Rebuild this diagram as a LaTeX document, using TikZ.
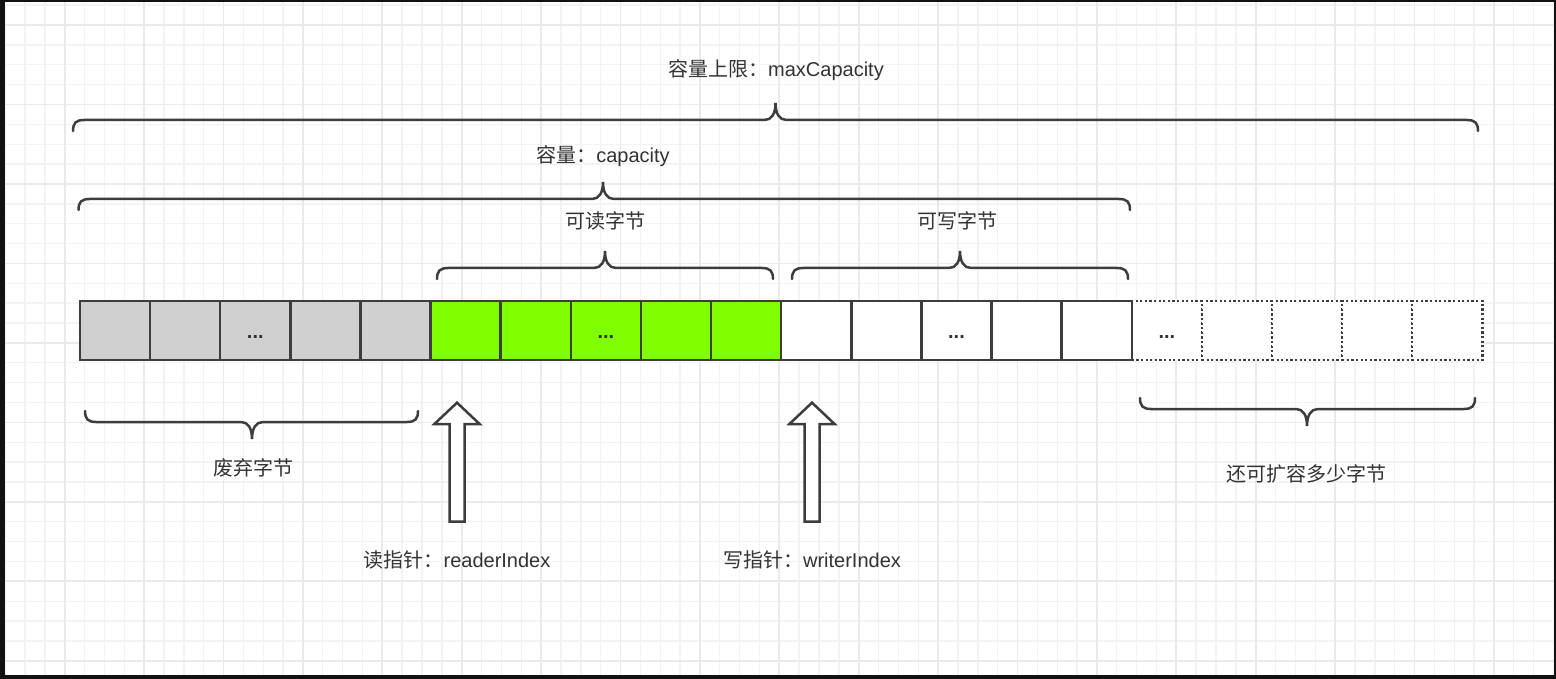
\documentclass[tikz,border=0pt]{standalone}
\usepackage{fontspec}
\setmainfont{Liberation Sans}
\newfontfamily\cjk{Noto Sans CJK SC}
\definecolor{inkline}{HTML}{3D3D3D}
\definecolor{inktext}{HTML}{333333}
\definecolor{discard}{HTML}{D0D0D0}
\definecolor{readable}{HTML}{80FF00}
\definecolor{gridminor}{HTML}{F3F3F3}
\definecolor{gridmajor}{HTML}{EAEAEA}
\definecolor{frame}{HTML}{111111}

% horizontal curly brace: #1 left x, #2 right x, #3 tip x, #4 line y, #5 = 1 (tip up) or -1 (tip down)
\newcommand\hbrace[5]{%
  \draw[bracesty] (#1,{#4+11*#5}) .. controls (#1,{#4+3*#5}) and ({#1+3},#4) .. ({#1+11},#4)
    -- ({#3-11},#4) .. controls ({#3-4},#4) and (#3,{#4-6*#5}) .. (#3,{#4-17*#5})
    .. controls (#3,{#4-6*#5}) and ({#3+4},#4) .. ({#3+11},#4)
    -- ({#2-11},#4) .. controls ({#2-3},#4) and (#2,{#4+3*#5}) .. (#2,{#4+11*#5});}

% hollow block arrow pointing up, centred on x = #1
\newcommand\uparrowshape[1]{%
  \draw[blockarrow] (#1,402.7) -- ({#1+22.6},424) -- ({#1+7.5},424) -- ({#1+7.5},521.7)
    -- ({#1-7.5},521.7) -- ({#1-7.5},424) -- ({#1-22.6},424) -- cycle;}

\begin{document}
\begin{tikzpicture}[x=1pt,y=-1pt,
  cellbase/.style={draw=inkline, line width=2.5pt, minimum width=70.12pt, minimum height=59pt, inner sep=0pt, outer sep=0pt},
  oldcell/.style={cellbase, fill=discard},
  readcell/.style={cellbase, fill=readable},
  writecell/.style={cellbase, fill=white},
  sparecell/.style={cellbase, fill=white, line width=2.4pt, dash pattern=on 2.2pt off 2.4pt},
  dotsty/.style={inner sep=0pt, text=inktext, font=\fontsize{20}{23}\selectfont\bfseries},
  bracesty/.style={draw=inkline, line width=2.5pt, line cap=round},
  blockarrow/.style={draw=inkline, fill=white, line width=2.5pt, line join=miter},
  label/.style={text=inktext, inner sep=0pt, font=\fontsize{20}{23}\selectfont}
]
\useasboundingbox (0,0) rectangle (1556,679);
% dark frame and white sheet
\fill[frame] (0,0) rectangle (1556,679);
\fill[white] (5,2.5) rectangle (1554,675);

% background grid
\begin{scope}
\clip (5,2.5) rectangle (1554,675);
\foreach \k in {-1,...,77} {
  \draw[gridminor, line width=1.4pt] ({25+19.85*\k},2.5) -- ({25+19.85*\k},675);
}
\foreach \k in {-1,...,33} {
  \draw[gridminor, line width=1.4pt] (5,{25+19.87*\k}) -- (1554,{25+19.87*\k});
}
\foreach \j in {0,...,18} {
  \draw[gridmajor, line width=1.8pt] ({64.7+79.4*\j},2.5) -- ({64.7+79.4*\j},675);
}
\foreach \j in {0,...,8} {
  \draw[gridmajor, line width=1.8pt] (5,{25+79.48*\j}) -- (1554,{25+79.48*\j});
}
\end{scope}

% buffer cells
\foreach \i in {15,...,19} {
  \node[sparecell] (c\i) at ({115.06+70.12*\i},330.5) {};
}
\foreach \i in {0,...,4} {
  \node[oldcell] (c\i) at ({115.06+70.12*\i},330.5) {};
}
\foreach \i in {5,...,9} {
  \node[readcell] (c\i) at ({115.06+70.12*\i},330.5) {};
}
\foreach \i in {10,...,14} {
  \node[writecell] (c\i) at ({115.06+70.12*\i},330.5) {};
}
\node[dotsty] (d2) at ([yshift=-6.5pt]c2.center) {...};
\node[dotsty] (d7) at ([yshift=-6.5pt]c7.center) {...};
\node[dotsty] (d12) at ([yshift=-6.5pt]c12.center) {...};
\node[dotsty] (d15) at ([yshift=-6.5pt]c15.center) {...};

% braces
\hbrace{73}{1478}{775.5}{120}{1}
\hbrace{78.5}{1130}{603}{199}{1}
\hbrace{437}{773}{605}{268}{1}
\hbrace{792}{1128}{960}{268}{1}
\hbrace{85}{418}{252}{422}{-1}
\hbrace{1140}{1475}{1307}{409}{-1}

% labels
\node[label] (maxcap) at (776,70) {{\cjk 容量上限：}maxCapacity};
\node[label] (cap) at (603,156) {{\cjk 容量：}capacity};
\node[label] (readable) at (605,221) {\cjk 可读字节};
\node[label] (writable) at (957,221) {\cjk 可写字节};
\node[label] (discarded) at (253,468) {\cjk 废弃字节};
\node[label] (growable) at (1306,474) {\cjk 还可扩容多少字节};

% index pointers
\uparrowshape{457}
\uparrowshape{812}
\node[label] (ridx) at (457,560) {{\cjk 读指针：}readerIndex};
\node[label] (widx) at (812,560) {{\cjk 写指针：}writerIndex};
\end{tikzpicture}
\end{document}
